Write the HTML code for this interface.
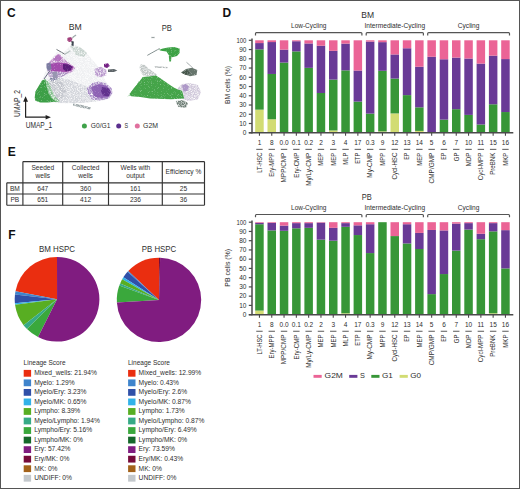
<!DOCTYPE html><html><head><meta charset="utf-8"><style>html,body{margin:0;padding:0;background:#fff;}body{width:520px;height:489px;overflow:hidden;}svg text{font-family:"Liberation Sans", sans-serif;}</style></head><body><svg width="520" height="489" viewBox="0 0 520 489" style="display:block">
<defs><filter id="bl" x="-20%" y="-20%" width="140%" height="140%"><feGaussianBlur stdDeviation="0.9"/></filter><filter id="bl2" x="-20%" y="-20%" width="140%" height="140%"><feGaussianBlur stdDeviation="1.6"/></filter><filter id="mot" x="0" y="0" width="520" height="489" filterUnits="userSpaceOnUse"><feGaussianBlur in="SourceGraphic" stdDeviation="0.7" result="b"/><feTurbulence type="fractalNoise" baseFrequency="1.3" numOctaves="1" seed="5" result="n"/><feColorMatrix in="n" type="matrix" values="0 0 0 0 0  0 0 0 0 0  0 0 0 0 0  2.6 0 0 0 -0.55" result="m"/><feComposite in="b" in2="m" operator="in" result="c"/><feGaussianBlur in="c" stdDeviation="0.35"/></filter><filter id="mot2" x="0" y="0" width="520" height="489" filterUnits="userSpaceOnUse"><feGaussianBlur in="SourceGraphic" stdDeviation="0.7" result="b"/><feTurbulence type="fractalNoise" baseFrequency="1.3" numOctaves="1" seed="9" result="n"/><feColorMatrix in="n" type="matrix" values="0 0 0 0 0  0 0 0 0 0  0 0 0 0 0  2.0 0 0 0 0.15" result="m"/><feComposite in="b" in2="m" operator="in" result="c"/><feGaussianBlur in="c" stdDeviation="0.3"/></filter></defs>
<rect x="0" y="0" width="520" height="489" fill="#fff"/>
<text x="7.00" y="16.80" font-size="12" text-anchor="start" fill="#111" font-weight="bold" >C</text>
<text x="222.60" y="16.60" font-size="12" text-anchor="start" fill="#111" font-weight="bold" >D</text>
<text x="7.70" y="155.60" font-size="12" text-anchor="start" fill="#111" font-weight="bold" >E</text>
<text x="8.20" y="239.40" font-size="12" text-anchor="start" fill="#111" font-weight="bold" >F</text>
<text x="75.20" y="29.70" font-size="8.7" text-anchor="middle" fill="#2e2e2e" textLength="13.0" lengthAdjust="spacingAndGlyphs" >BM</text>
<text x="166.80" y="30.90" font-size="8.6" text-anchor="middle" fill="#2e2e2e" textLength="10.2" lengthAdjust="spacingAndGlyphs" >PB</text>
<g filter="url(#mot)">
 <!-- BM body stipple -->
 <path d="M35,99 L38,88 L42,80 L47,68 L52,58 L57,52 L63,53 L68,48 L72,44 L78,46 L84,50 L90,57 L96,64 L101,70 L104,78 L108,85 L112,90 L111,97 L104,100.5 L92,102 L80,103 L66,103.5 L52,103 L40,101 Z" fill="#eff0f2"/>
 <path d="M44,100 L46,88 L49,79 L58,77 L70,80 L80,84 L90,88 L97,95 L96,101.5 L80,103 L60,103 Z" fill="#d3d5db"/>
 <path d="M47,84 L50,78 L58,77 L64,82 L66,92 L62,100 L52,101 Z" fill="#c2c5cc"/>
 <path d="M70,46 L80,47 L87,53 L84,57 L76,55 Z" fill="#c6d2cd"/>
 <path d="M44.5,79 L48.5,81 L51.5,89 L54.5,96 L60,101.5 L55,102.2 L50,97 L47,88 Z" fill="#84c08e"/>
 <path d="M49,74 L56,73.5 L57,80 L51,81 Z" fill="#7a7c9e"/>
 <path d="M46.5,65 L52,59 L58.6,53.2 L62.5,57 L67,61.5 L72,64.5 L75.5,68 L72,72 L66,74.5 L60,77 L54,78.5 L48.5,76 Z" fill="#c496cc"/>
 <path d="M48,71 L58,72 L68,73 L62,77 L55,78.5 L49,76 Z" fill="#a890c0"/>
 <path d="M87,88 L92,83 L99,81.5 L106,83.5 L111.5,88 L112.5,93 L109,98.5 L100,100.5 L92,99.5 L88,94 Z" fill="#a88cc6"/>
 <path d="M94.5,69 L101,66.8 L106.3,70 L106.3,75.5 L101,77 L95.5,76 Z" fill="#b898cc"/>
 <path d="M73,103.5 L82,105 L91,107.5 L90,109.5 L80,107.5 L73,105.5 Z" fill="#9aa4a6"/>
 <!-- PB body stipple -->
 <path d="M139.5,67 L141,64 L144,64.5 L148,68 L153,71.5 L157,74.5 L156,77 L150,77 L144,76 L141,73 Z" fill="#c0c6c5"/>
 <path d="M127.5,96.5 L131,92 L136,86 L139,81 L140,88 L134,95 Z" fill="#72b878"/>
 <path d="M176,90 L182,84 L190,83 L198,85 L201,92 L198,99.5 L188,101 L180,98 Z" fill="#d2cadc"/>
 <path d="M175.8,101 L183,100 L188,103 L186,107.7 L178,107 Z" fill="#6e7e76"/>
 <path d="M154.6,66.8 L167.7,67.6" stroke="#a4aaaa" stroke-width="1.2"/>
</g>
<g filter="url(#mot2)">
 <!-- green lobe -->
 <path d="M34.7,97.7 L35.4,91.6 L39,85.4 L42,80.5 L45.2,79.3 L46.4,85.4 L48.8,94 L52.5,99 L56.2,101.4 L48,102.6 L40.3,102.6 L35.4,100.8 Z" fill="#3e9f46"/>
 <!-- upper purple region -->
 <path d="M50,64 L58,62.5 L66,63 L73.5,66.5 L72,70.5 L66,72 L58,71.5 L51,71 Z" fill="#a24cac"/>
 <path d="M55,57 L58.6,54.5 L62,58 L60,61 L56,60.5 Z" fill="#b66cbc"/>
 <path d="M52.5,72 L57,71.5 L57.5,78 L53,79 Z" fill="#9896b0"/>
 <path d="M53,60 L58.6,54.5 L61,58 L58,61 Z" fill="#b476c0"/>
 <path d="M63,64 L69,64.5 L72.5,67 L70.5,70.5 L66,71.5 L63,69 Z" fill="#5c1e7a"/>
 <path d="M46.5,63.5 L50.5,62.5 L51.5,69 L48,71 L46.5,68 Z" fill="#7c7ea2"/>
 <path d="M44,79 L50,70.5" stroke="#6a6c84" stroke-width="1"/>
 <!-- right purple blob -->
 <path d="M91,87 L99,84 L106,85.5 L110.5,90 L109,96.5 L100,98.5 L94,96 Z" fill="#8e62b4"/>
 <path d="M102,87 L108,88 L111,92 L108.5,96.5 L103,95.5 L101,91 Z" fill="#62308e"/>
 <!-- small purple top -->
 <path d="M67.3,38 L70,36.9 L72.3,38 L72,41.5 L69,42 L67.3,40.5 Z" fill="#a03e7a"/>
 <path d="M71.5,41 L73.8,41.5 L73.5,46 L71.5,45.5 Z" fill="#3a424c"/>
 <path d="M72,38 L76,35" stroke="#94a2a2" stroke-width="1.2"/>
 <path d="M104,64 L108,63.3 L109.8,66 L107,67.9 L104,67 Z" fill="#742084"/>
 <path d="M108,69.5 L114,69 L117.3,70.5 L114,72 L108,72 Z" fill="#5e666a"/>
 <path d="M56.5,49.4 L64.8,54.2" stroke="#5a6068" stroke-width="0.9"/>
 <path d="M64.8,54.2 L70.4,50.8" stroke="#b0bcba" stroke-width="1.1"/>
 <!-- PB -->
 <path d="M129.6,94 L134,88 L139,82 L142.7,76.9 L149,76.5 L155.8,75.4 L160,78 L165,81.5 L170,85 L174.2,87.7 L178,89.5 L182,90.8 L184.2,98.5 L171,99.2 L150,98.5 L140.4,97 L131.2,96.2 Z" fill="#44a44a"/>
 <path d="M158.8,49.8 L163,48.6 L168,47.4 L174,47 L179.6,48.5 L179.6,53 L177,56 L172,57.2 L169,55.5 L166.5,51.5 L161,50.8 Z" fill="#3ca244"/>
 <path d="M168.8,56 L171.5,56 L171,61.5 L169.3,61.5 Z" fill="#46a44e"/>
 <path d="M147.3,55.4 L159.6,48.5" stroke="#849090" stroke-width="1"/>
 <path d="M181,72.5 L186,69 L192,67.7 L197.3,70 L196.5,75 L190,76.2 L185,74.5 Z" fill="#66746c"/>
 <path d="M181.5,72.8 L187,70 L190,73 L186,75 Z" fill="#44544a"/>
 <path d="M186.5,62.3 L192.7,67.7" stroke="#9aa2a2" stroke-width="0.9"/>
 <path d="M182,85.5 L186,83.8 L189,86.5 L187.5,91 L183.5,91.5 Z" fill="#ae98c8"/>
 <path d="M151,37.5 L155,37.5" stroke="#9aa2a2" stroke-width="1.2"/>
</g>

<path d="M25.6,101 L25.6,117.2 L46.5,117.2" fill="none" stroke="#222" stroke-width="1.2"/>
<path d="M25.6,96.2 L23.2,101.7 L28.0,101.7 Z" fill="#222"/>
<path d="M50.9,117.2 L45.6,114.9 L45.6,119.6 Z" fill="#222"/>
<text transform="translate(20.2,116.9) rotate(-90)" font-size="8.5" fill="#2e2e2e" textLength="26.9" lengthAdjust="spacingAndGlyphs">UMAP_2</text>
<text x="25.70" y="127.80" font-size="8.5" text-anchor="start" fill="#2e2e2e" textLength="26.4" lengthAdjust="spacingAndGlyphs" >UMAP_1</text>
<circle cx="84.4" cy="126" r="2.5" fill="#3fa24a"/>
<text x="90.80" y="128.30" font-size="7" text-anchor="start" fill="#2e2e2e" textLength="19.6" lengthAdjust="spacingAndGlyphs" >G0/G1</text>
<circle cx="118.7" cy="126" r="2.5" fill="#5a2f8e"/>
<text x="124.40" y="128.30" font-size="7" text-anchor="start" fill="#2e2e2e" textLength="3.6" lengthAdjust="spacingAndGlyphs" >S</text>
<circle cx="137.3" cy="126" r="2.5" fill="#e0709e"/>
<text x="143.00" y="128.30" font-size="7" text-anchor="start" fill="#2e2e2e" textLength="15" lengthAdjust="spacingAndGlyphs" >G2M</text>
<text x="367.70" y="17.70" font-size="8.4" text-anchor="middle" fill="#2e2e2e" textLength="12.8" lengthAdjust="spacingAndGlyphs" >BM</text>
<path d="M255.50,35.40 L255.50,33.50 Q255.50,32.60 256.40,32.60 L361.00,32.60 Q361.90,32.60 361.90,33.50 L361.90,35.40" fill="none" stroke="#555" stroke-width="1.2"/>
<text x="308.70" y="28.10" font-size="6.6" text-anchor="middle" fill="#2e2e2e" textLength="35.3" lengthAdjust="spacingAndGlyphs" >Low-Cycling</text>
<path d="M366.20,35.40 L366.20,33.50 Q366.20,32.60 367.10,32.60 L422.50,32.60 Q423.40,32.60 423.40,33.50 L423.40,35.40" fill="none" stroke="#555" stroke-width="1.2"/>
<text x="394.80" y="28.10" font-size="6.6" text-anchor="middle" fill="#2e2e2e" textLength="60.6" lengthAdjust="spacingAndGlyphs" >Intermediate-Cycling</text>
<path d="M427.70,35.40 L427.70,33.50 Q427.70,32.60 428.60,32.60 L508.60,32.60 Q509.50,32.60 509.50,33.50 L509.50,35.40" fill="none" stroke="#555" stroke-width="1.2"/>
<text x="468.60" y="28.10" font-size="6.6" text-anchor="middle" fill="#2e2e2e" textLength="21.6" lengthAdjust="spacingAndGlyphs" >Cycling</text>
<rect x="255.20" y="109.64" width="8.5" height="23.11" fill="#d2dc73"/>
<rect x="255.20" y="49.36" width="8.5" height="60.28" fill="#379637"/>
<rect x="255.20" y="43.07" width="8.5" height="6.29" fill="#693a96"/>
<rect x="255.20" y="40.30" width="8.5" height="2.77" fill="#eb6496"/>
<rect x="267.50" y="119.25" width="8.5" height="13.50" fill="#d2dc73"/>
<rect x="267.50" y="73.95" width="8.5" height="45.30" fill="#379637"/>
<rect x="267.50" y="42.06" width="8.5" height="31.90" fill="#693a96"/>
<rect x="267.50" y="40.30" width="8.5" height="1.76" fill="#eb6496"/>
<rect x="279.80" y="62.58" width="8.5" height="70.17" fill="#379637"/>
<rect x="279.80" y="49.64" width="8.5" height="12.94" fill="#693a96"/>
<rect x="279.80" y="40.30" width="8.5" height="9.34" fill="#eb6496"/>
<rect x="292.10" y="51.39" width="8.5" height="81.36" fill="#379637"/>
<rect x="292.10" y="41.22" width="8.5" height="10.17" fill="#693a96"/>
<rect x="292.10" y="40.30" width="8.5" height="0.92" fill="#eb6496"/>
<rect x="304.40" y="67.85" width="8.5" height="64.90" fill="#379637"/>
<rect x="304.40" y="43.44" width="8.5" height="24.41" fill="#693a96"/>
<rect x="304.40" y="40.30" width="8.5" height="3.14" fill="#eb6496"/>
<rect x="316.70" y="93.00" width="8.5" height="39.75" fill="#379637"/>
<rect x="316.70" y="45.75" width="8.5" height="47.24" fill="#693a96"/>
<rect x="316.70" y="40.30" width="8.5" height="5.45" fill="#eb6496"/>
<rect x="329.00" y="130.44" width="8.5" height="2.31" fill="#d2dc73"/>
<rect x="329.00" y="79.59" width="8.5" height="50.85" fill="#379637"/>
<rect x="329.00" y="50.84" width="8.5" height="28.75" fill="#693a96"/>
<rect x="329.00" y="40.30" width="8.5" height="10.54" fill="#eb6496"/>
<rect x="341.30" y="70.35" width="8.5" height="62.40" fill="#379637"/>
<rect x="341.30" y="43.63" width="8.5" height="26.72" fill="#693a96"/>
<rect x="341.30" y="40.30" width="8.5" height="3.33" fill="#eb6496"/>
<rect x="353.60" y="101.59" width="8.5" height="31.16" fill="#379637"/>
<rect x="353.60" y="70.53" width="8.5" height="31.06" fill="#693a96"/>
<rect x="353.60" y="40.30" width="8.5" height="30.23" fill="#eb6496"/>
<rect x="365.90" y="113.61" width="8.5" height="19.14" fill="#379637"/>
<rect x="365.90" y="41.59" width="8.5" height="72.02" fill="#693a96"/>
<rect x="365.90" y="40.30" width="8.5" height="1.29" fill="#eb6496"/>
<rect x="378.20" y="131.36" width="8.5" height="1.39" fill="#d2dc73"/>
<rect x="378.20" y="70.81" width="8.5" height="60.55" fill="#379637"/>
<rect x="378.20" y="42.15" width="8.5" height="28.66" fill="#693a96"/>
<rect x="378.20" y="40.30" width="8.5" height="1.85" fill="#eb6496"/>
<rect x="390.50" y="113.43" width="8.5" height="19.32" fill="#d2dc73"/>
<rect x="390.50" y="78.57" width="8.5" height="34.85" fill="#379637"/>
<rect x="390.50" y="54.44" width="8.5" height="24.13" fill="#693a96"/>
<rect x="390.50" y="40.30" width="8.5" height="14.14" fill="#eb6496"/>
<rect x="402.80" y="95.12" width="8.5" height="37.63" fill="#379637"/>
<rect x="402.80" y="48.25" width="8.5" height="46.87" fill="#693a96"/>
<rect x="402.80" y="40.30" width="8.5" height="7.95" fill="#eb6496"/>
<rect x="415.10" y="130.90" width="8.5" height="1.85" fill="#d2dc73"/>
<rect x="415.10" y="107.33" width="8.5" height="23.57" fill="#379637"/>
<rect x="415.10" y="66.74" width="8.5" height="40.59" fill="#693a96"/>
<rect x="415.10" y="40.30" width="8.5" height="26.44" fill="#eb6496"/>
<rect x="427.40" y="56.76" width="8.5" height="75.99" fill="#693a96"/>
<rect x="427.40" y="40.30" width="8.5" height="16.46" fill="#eb6496"/>
<rect x="439.70" y="119.62" width="8.5" height="13.13" fill="#379637"/>
<rect x="439.70" y="59.25" width="8.5" height="60.37" fill="#693a96"/>
<rect x="439.70" y="40.30" width="8.5" height="18.95" fill="#eb6496"/>
<rect x="452.00" y="109.18" width="8.5" height="23.57" fill="#379637"/>
<rect x="452.00" y="57.59" width="8.5" height="51.59" fill="#693a96"/>
<rect x="452.00" y="40.30" width="8.5" height="17.29" fill="#eb6496"/>
<rect x="464.30" y="114.91" width="8.5" height="17.84" fill="#379637"/>
<rect x="464.30" y="58.51" width="8.5" height="56.39" fill="#693a96"/>
<rect x="464.30" y="40.30" width="8.5" height="18.21" fill="#eb6496"/>
<rect x="476.60" y="124.52" width="8.5" height="8.23" fill="#379637"/>
<rect x="476.60" y="63.60" width="8.5" height="60.92" fill="#693a96"/>
<rect x="476.60" y="40.30" width="8.5" height="23.30" fill="#eb6496"/>
<rect x="488.90" y="104.28" width="8.5" height="28.47" fill="#379637"/>
<rect x="488.90" y="55.65" width="8.5" height="48.63" fill="#693a96"/>
<rect x="488.90" y="40.30" width="8.5" height="15.35" fill="#eb6496"/>
<rect x="501.20" y="112.04" width="8.5" height="20.71" fill="#379637"/>
<rect x="501.20" y="59.07" width="8.5" height="52.97" fill="#693a96"/>
<rect x="501.20" y="40.30" width="8.5" height="18.77" fill="#eb6496"/>
<line x1="252" y1="38.60" x2="252" y2="133.45" stroke="#4a4a4a" stroke-width="1.5"/>
<line x1="248.8" y1="132.75" x2="513.3" y2="132.75" stroke="#4a4a4a" stroke-width="1.5"/>
<line x1="248.8" y1="132.75" x2="252" y2="132.75" stroke="#4a4a4a" stroke-width="1.2"/>
<text x="246.40" y="135.05" font-size="6.5" text-anchor="end" fill="#2e2e2e" >0</text>
<line x1="248.8" y1="123.50" x2="252" y2="123.50" stroke="#4a4a4a" stroke-width="1.2"/>
<text x="246.40" y="125.80" font-size="6.5" text-anchor="end" fill="#2e2e2e" >10</text>
<line x1="248.8" y1="114.26" x2="252" y2="114.26" stroke="#4a4a4a" stroke-width="1.2"/>
<text x="246.40" y="116.56" font-size="6.5" text-anchor="end" fill="#2e2e2e" >20</text>
<line x1="248.8" y1="105.02" x2="252" y2="105.02" stroke="#4a4a4a" stroke-width="1.2"/>
<text x="246.40" y="107.31" font-size="6.5" text-anchor="end" fill="#2e2e2e" >30</text>
<line x1="248.8" y1="95.77" x2="252" y2="95.77" stroke="#4a4a4a" stroke-width="1.2"/>
<text x="246.40" y="98.07" font-size="6.5" text-anchor="end" fill="#2e2e2e" >40</text>
<line x1="248.8" y1="86.53" x2="252" y2="86.53" stroke="#4a4a4a" stroke-width="1.2"/>
<text x="246.40" y="88.83" font-size="6.5" text-anchor="end" fill="#2e2e2e" >50</text>
<line x1="248.8" y1="77.28" x2="252" y2="77.28" stroke="#4a4a4a" stroke-width="1.2"/>
<text x="246.40" y="79.58" font-size="6.5" text-anchor="end" fill="#2e2e2e" >60</text>
<line x1="248.8" y1="68.03" x2="252" y2="68.03" stroke="#4a4a4a" stroke-width="1.2"/>
<text x="246.40" y="70.33" font-size="6.5" text-anchor="end" fill="#2e2e2e" >70</text>
<line x1="248.8" y1="58.79" x2="252" y2="58.79" stroke="#4a4a4a" stroke-width="1.2"/>
<text x="246.40" y="61.09" font-size="6.5" text-anchor="end" fill="#2e2e2e" >80</text>
<line x1="248.8" y1="49.54" x2="252" y2="49.54" stroke="#4a4a4a" stroke-width="1.2"/>
<text x="246.40" y="51.84" font-size="6.5" text-anchor="end" fill="#2e2e2e" >90</text>
<line x1="248.8" y1="40.30" x2="252" y2="40.30" stroke="#4a4a4a" stroke-width="1.2"/>
<text x="246.40" y="42.60" font-size="6.5" text-anchor="end" fill="#2e2e2e" textLength="9.9" lengthAdjust="spacingAndGlyphs" >100</text>
<line x1="259.45" y1="132.75" x2="259.45" y2="135.75" stroke="#4a4a4a" stroke-width="1.1"/>
<text x="259.45" y="144.65" font-size="6.5" text-anchor="middle" fill="#2e2e2e" >1</text>
<line x1="256.25" y1="149.35" x2="262.65" y2="149.35" stroke="#2e2e2e" stroke-width="0.8"/>
<text transform="translate(261.75,152.65) rotate(-90)" font-size="6.5" text-anchor="end" fill="#2e2e2e" textLength="20.01" lengthAdjust="spacingAndGlyphs">LT-HSC</text>
<line x1="271.75" y1="132.75" x2="271.75" y2="135.75" stroke="#4a4a4a" stroke-width="1.1"/>
<text x="271.75" y="144.65" font-size="6.5" text-anchor="middle" fill="#2e2e2e" >8</text>
<line x1="268.55" y1="149.35" x2="274.95" y2="149.35" stroke="#2e2e2e" stroke-width="0.8"/>
<text transform="translate(274.05,152.65) rotate(-90)" font-size="6.5" text-anchor="end" fill="#2e2e2e" textLength="24.00" lengthAdjust="spacingAndGlyphs">Ery-MPP</text>
<line x1="284.05" y1="132.75" x2="284.05" y2="135.75" stroke="#4a4a4a" stroke-width="1.1"/>
<text x="284.05" y="144.65" font-size="6.5" text-anchor="middle" fill="#2e2e2e" >0.0</text>
<line x1="280.85" y1="149.35" x2="287.25" y2="149.35" stroke="#2e2e2e" stroke-width="0.8"/>
<text transform="translate(286.35,152.65) rotate(-90)" font-size="6.5" text-anchor="end" fill="#2e2e2e" textLength="29.81" lengthAdjust="spacingAndGlyphs">MPP/CMP</text>
<line x1="296.35" y1="132.75" x2="296.35" y2="135.75" stroke="#4a4a4a" stroke-width="1.1"/>
<text x="296.35" y="144.65" font-size="6.5" text-anchor="middle" fill="#2e2e2e" >0.1</text>
<line x1="293.15" y1="149.35" x2="299.55" y2="149.35" stroke="#2e2e2e" stroke-width="0.8"/>
<text transform="translate(298.65,152.65) rotate(-90)" font-size="6.5" text-anchor="end" fill="#2e2e2e" textLength="25.00" lengthAdjust="spacingAndGlyphs">Ery-CMP</text>
<line x1="308.65" y1="132.75" x2="308.65" y2="135.75" stroke="#4a4a4a" stroke-width="1.1"/>
<text x="308.65" y="144.65" font-size="6.5" text-anchor="middle" fill="#2e2e2e" >0.2</text>
<line x1="305.45" y1="149.35" x2="311.85" y2="149.35" stroke="#2e2e2e" stroke-width="0.8"/>
<text transform="translate(310.95,152.65) rotate(-90)" font-size="6.5" text-anchor="end" fill="#2e2e2e" textLength="33.20" lengthAdjust="spacingAndGlyphs">My/Ly-CMP</text>
<line x1="320.95" y1="132.75" x2="320.95" y2="135.75" stroke="#4a4a4a" stroke-width="1.1"/>
<text x="320.95" y="144.65" font-size="6.5" text-anchor="middle" fill="#2e2e2e" >2</text>
<line x1="317.75" y1="149.35" x2="324.15" y2="149.35" stroke="#2e2e2e" stroke-width="0.8"/>
<text transform="translate(323.25,152.65) rotate(-90)" font-size="6.5" text-anchor="end" fill="#2e2e2e" textLength="13.01" lengthAdjust="spacingAndGlyphs">MEP</text>
<line x1="333.25" y1="132.75" x2="333.25" y2="135.75" stroke="#4a4a4a" stroke-width="1.1"/>
<text x="333.25" y="144.65" font-size="6.5" text-anchor="middle" fill="#2e2e2e" >3</text>
<line x1="330.05" y1="149.35" x2="336.45" y2="149.35" stroke="#2e2e2e" stroke-width="0.8"/>
<text transform="translate(335.55,152.65) rotate(-90)" font-size="6.5" text-anchor="end" fill="#2e2e2e" textLength="13.01" lengthAdjust="spacingAndGlyphs">MEP</text>
<line x1="345.55" y1="132.75" x2="345.55" y2="135.75" stroke="#4a4a4a" stroke-width="1.1"/>
<text x="345.55" y="144.65" font-size="6.5" text-anchor="middle" fill="#2e2e2e" >4</text>
<line x1="342.35" y1="149.35" x2="348.75" y2="149.35" stroke="#2e2e2e" stroke-width="0.8"/>
<text transform="translate(347.85,152.65) rotate(-90)" font-size="6.5" text-anchor="end" fill="#2e2e2e" textLength="12.01" lengthAdjust="spacingAndGlyphs">MLP</text>
<line x1="357.85" y1="132.75" x2="357.85" y2="135.75" stroke="#4a4a4a" stroke-width="1.1"/>
<text x="357.85" y="144.65" font-size="6.5" text-anchor="middle" fill="#2e2e2e" >17</text>
<line x1="354.65" y1="149.35" x2="361.05" y2="149.35" stroke="#2e2e2e" stroke-width="0.8"/>
<text transform="translate(360.15,152.65) rotate(-90)" font-size="6.5" text-anchor="end" fill="#2e2e2e" textLength="11.10" lengthAdjust="spacingAndGlyphs">ETP</text>
<line x1="370.15" y1="132.75" x2="370.15" y2="135.75" stroke="#4a4a4a" stroke-width="1.1"/>
<text x="370.15" y="144.65" font-size="6.5" text-anchor="middle" fill="#2e2e2e" >0.3</text>
<line x1="366.95" y1="149.35" x2="373.35" y2="149.35" stroke="#2e2e2e" stroke-width="0.8"/>
<text transform="translate(372.45,152.65) rotate(-90)" font-size="6.5" text-anchor="end" fill="#2e2e2e" textLength="24.99" lengthAdjust="spacingAndGlyphs">My-CMP</text>
<line x1="382.45" y1="132.75" x2="382.45" y2="135.75" stroke="#4a4a4a" stroke-width="1.1"/>
<text x="382.45" y="144.65" font-size="6.5" text-anchor="middle" fill="#2e2e2e" >9</text>
<line x1="379.25" y1="149.35" x2="385.65" y2="149.35" stroke="#2e2e2e" stroke-width="0.8"/>
<text transform="translate(384.75,152.65) rotate(-90)" font-size="6.5" text-anchor="end" fill="#2e2e2e" textLength="13.01" lengthAdjust="spacingAndGlyphs">MPP</text>
<line x1="394.75" y1="132.75" x2="394.75" y2="135.75" stroke="#4a4a4a" stroke-width="1.1"/>
<text x="394.75" y="144.65" font-size="6.5" text-anchor="middle" fill="#2e2e2e" >12</text>
<line x1="391.55" y1="149.35" x2="397.95" y2="149.35" stroke="#2e2e2e" stroke-width="0.8"/>
<text transform="translate(397.05,152.65) rotate(-90)" font-size="6.5" text-anchor="end" fill="#2e2e2e" textLength="26.89" lengthAdjust="spacingAndGlyphs">Cycl-HSC</text>
<line x1="407.05" y1="132.75" x2="407.05" y2="135.75" stroke="#4a4a4a" stroke-width="1.1"/>
<text x="407.05" y="144.65" font-size="6.5" text-anchor="middle" fill="#2e2e2e" >13</text>
<line x1="403.85" y1="149.35" x2="410.25" y2="149.35" stroke="#2e2e2e" stroke-width="0.8"/>
<text transform="translate(409.35,152.65) rotate(-90)" font-size="6.5" text-anchor="end" fill="#2e2e2e" textLength="7.19" lengthAdjust="spacingAndGlyphs">EP</text>
<line x1="419.35" y1="132.75" x2="419.35" y2="135.75" stroke="#4a4a4a" stroke-width="1.1"/>
<text x="419.35" y="144.65" font-size="6.5" text-anchor="middle" fill="#2e2e2e" >14</text>
<line x1="416.15" y1="149.35" x2="422.55" y2="149.35" stroke="#2e2e2e" stroke-width="0.8"/>
<text transform="translate(421.65,152.65) rotate(-90)" font-size="6.5" text-anchor="end" fill="#2e2e2e" textLength="13.01" lengthAdjust="spacingAndGlyphs">MEP</text>
<line x1="431.65" y1="132.75" x2="431.65" y2="135.75" stroke="#4a4a4a" stroke-width="1.1"/>
<text x="431.65" y="144.65" font-size="6.5" text-anchor="middle" fill="#2e2e2e" >5</text>
<line x1="428.45" y1="149.35" x2="434.85" y2="149.35" stroke="#2e2e2e" stroke-width="0.8"/>
<text transform="translate(433.95,152.65) rotate(-90)" font-size="6.5" text-anchor="end" fill="#2e2e2e" textLength="30.79" lengthAdjust="spacingAndGlyphs">CMP/GMP</text>
<line x1="443.95" y1="132.75" x2="443.95" y2="135.75" stroke="#4a4a4a" stroke-width="1.1"/>
<text x="443.95" y="144.65" font-size="6.5" text-anchor="middle" fill="#2e2e2e" >6</text>
<line x1="440.75" y1="149.35" x2="447.15" y2="149.35" stroke="#2e2e2e" stroke-width="0.8"/>
<text transform="translate(446.25,152.65) rotate(-90)" font-size="6.5" text-anchor="end" fill="#2e2e2e" textLength="7.19" lengthAdjust="spacingAndGlyphs">EP</text>
<line x1="456.25" y1="132.75" x2="456.25" y2="135.75" stroke="#4a4a4a" stroke-width="1.1"/>
<text x="456.25" y="144.65" font-size="6.5" text-anchor="middle" fill="#2e2e2e" >7</text>
<line x1="453.05" y1="149.35" x2="459.45" y2="149.35" stroke="#2e2e2e" stroke-width="0.8"/>
<text transform="translate(458.55,152.65) rotate(-90)" font-size="6.5" text-anchor="end" fill="#2e2e2e" textLength="8.60" lengthAdjust="spacingAndGlyphs">GP</text>
<line x1="468.55" y1="132.75" x2="468.55" y2="135.75" stroke="#4a4a4a" stroke-width="1.1"/>
<text x="468.55" y="144.65" font-size="6.5" text-anchor="middle" fill="#2e2e2e" >10</text>
<line x1="465.35" y1="149.35" x2="471.75" y2="149.35" stroke="#2e2e2e" stroke-width="0.8"/>
<text transform="translate(470.85,152.65) rotate(-90)" font-size="6.5" text-anchor="end" fill="#2e2e2e" textLength="13.71" lengthAdjust="spacingAndGlyphs">MDP</text>
<line x1="480.85" y1="132.75" x2="480.85" y2="135.75" stroke="#4a4a4a" stroke-width="1.1"/>
<text x="480.85" y="144.65" font-size="6.5" text-anchor="middle" fill="#2e2e2e" >11</text>
<line x1="477.65" y1="149.35" x2="484.05" y2="149.35" stroke="#2e2e2e" stroke-width="0.8"/>
<text transform="translate(483.15,152.65) rotate(-90)" font-size="6.5" text-anchor="end" fill="#2e2e2e" textLength="27.70" lengthAdjust="spacingAndGlyphs">Cycl-MPP</text>
<line x1="493.15" y1="132.75" x2="493.15" y2="135.75" stroke="#4a4a4a" stroke-width="1.1"/>
<text x="493.15" y="144.65" font-size="6.5" text-anchor="middle" fill="#2e2e2e" >15</text>
<line x1="489.95" y1="149.35" x2="496.35" y2="149.35" stroke="#2e2e2e" stroke-width="0.8"/>
<text transform="translate(495.45,152.65) rotate(-90)" font-size="6.5" text-anchor="end" fill="#2e2e2e" textLength="22.18" lengthAdjust="spacingAndGlyphs">PreBNK</text>
<line x1="505.45" y1="132.75" x2="505.45" y2="135.75" stroke="#4a4a4a" stroke-width="1.1"/>
<text x="505.45" y="144.65" font-size="6.5" text-anchor="middle" fill="#2e2e2e" >16</text>
<line x1="502.25" y1="149.35" x2="508.65" y2="149.35" stroke="#2e2e2e" stroke-width="0.8"/>
<text transform="translate(507.75,152.65) rotate(-90)" font-size="6.5" text-anchor="end" fill="#2e2e2e" textLength="13.21" lengthAdjust="spacingAndGlyphs">MKP</text>
<text transform="translate(230.0,85.00) rotate(-90)" font-size="7.7" text-anchor="middle" fill="#2e2e2e" textLength="37.8" lengthAdjust="spacingAndGlyphs">BM cells (%)</text>
<text x="366.70" y="199.90" font-size="8.4" text-anchor="middle" fill="#2e2e2e" textLength="10.0" lengthAdjust="spacingAndGlyphs" >PB</text>
<path d="M255.50,217.30 L255.50,215.40 Q255.50,214.50 256.40,214.50 L361.00,214.50 Q361.90,214.50 361.90,215.40 L361.90,217.30" fill="none" stroke="#555" stroke-width="1.2"/>
<text x="308.70" y="210.00" font-size="6.6" text-anchor="middle" fill="#2e2e2e" textLength="35.3" lengthAdjust="spacingAndGlyphs" >Low-Cycling</text>
<path d="M366.20,217.30 L366.20,215.40 Q366.20,214.50 367.10,214.50 L422.50,214.50 Q423.40,214.50 423.40,215.40 L423.40,217.30" fill="none" stroke="#555" stroke-width="1.2"/>
<text x="394.80" y="210.00" font-size="6.6" text-anchor="middle" fill="#2e2e2e" textLength="60.6" lengthAdjust="spacingAndGlyphs" >Intermediate-Cycling</text>
<path d="M427.70,217.30 L427.70,215.40 Q427.70,214.50 428.60,214.50 L508.60,214.50 Q509.50,214.50 509.50,215.40 L509.50,217.30" fill="none" stroke="#555" stroke-width="1.2"/>
<text x="468.60" y="210.00" font-size="6.6" text-anchor="middle" fill="#2e2e2e" textLength="21.6" lengthAdjust="spacingAndGlyphs" >Cycling</text>
<rect x="255.20" y="310.58" width="8.5" height="4.07" fill="#d2dc73"/>
<rect x="255.20" y="224.23" width="8.5" height="86.35" fill="#379637"/>
<rect x="255.20" y="222.85" width="8.5" height="1.39" fill="#693a96"/>
<rect x="255.20" y="222.20" width="8.5" height="0.65" fill="#eb6496"/>
<rect x="267.50" y="230.43" width="8.5" height="84.22" fill="#379637"/>
<rect x="267.50" y="222.85" width="8.5" height="7.58" fill="#693a96"/>
<rect x="267.50" y="222.20" width="8.5" height="0.65" fill="#eb6496"/>
<rect x="279.80" y="230.80" width="8.5" height="83.85" fill="#379637"/>
<rect x="279.80" y="225.62" width="8.5" height="5.18" fill="#693a96"/>
<rect x="279.80" y="222.20" width="8.5" height="3.42" fill="#eb6496"/>
<rect x="292.10" y="228.30" width="8.5" height="86.35" fill="#379637"/>
<rect x="292.10" y="223.12" width="8.5" height="5.18" fill="#693a96"/>
<rect x="292.10" y="222.20" width="8.5" height="0.92" fill="#eb6496"/>
<rect x="304.40" y="227.84" width="8.5" height="86.81" fill="#379637"/>
<rect x="304.40" y="223.12" width="8.5" height="4.71" fill="#693a96"/>
<rect x="304.40" y="222.20" width="8.5" height="0.92" fill="#eb6496"/>
<rect x="316.70" y="239.67" width="8.5" height="74.98" fill="#379637"/>
<rect x="316.70" y="222.66" width="8.5" height="17.01" fill="#693a96"/>
<rect x="316.70" y="222.20" width="8.5" height="0.46" fill="#eb6496"/>
<rect x="329.00" y="240.69" width="8.5" height="73.96" fill="#379637"/>
<rect x="329.00" y="227.84" width="8.5" height="12.85" fill="#693a96"/>
<rect x="329.00" y="222.20" width="8.5" height="5.64" fill="#eb6496"/>
<rect x="341.30" y="313.26" width="8.5" height="1.39" fill="#d2dc73"/>
<rect x="341.30" y="226.82" width="8.5" height="86.44" fill="#379637"/>
<rect x="341.30" y="223.12" width="8.5" height="3.70" fill="#693a96"/>
<rect x="341.30" y="222.20" width="8.5" height="0.92" fill="#eb6496"/>
<rect x="353.60" y="235.05" width="8.5" height="79.60" fill="#379637"/>
<rect x="353.60" y="225.34" width="8.5" height="9.71" fill="#693a96"/>
<rect x="353.60" y="222.20" width="8.5" height="3.14" fill="#eb6496"/>
<rect x="365.90" y="253.08" width="8.5" height="61.57" fill="#379637"/>
<rect x="365.90" y="224.23" width="8.5" height="28.84" fill="#693a96"/>
<rect x="365.90" y="222.20" width="8.5" height="2.03" fill="#eb6496"/>
<rect x="378.20" y="222.20" width="8.5" height="92.45" fill="#379637"/>
<rect x="390.50" y="236.07" width="8.5" height="78.58" fill="#379637"/>
<rect x="390.50" y="222.20" width="8.5" height="13.87" fill="#eb6496"/>
<rect x="402.80" y="243.46" width="8.5" height="71.19" fill="#379637"/>
<rect x="402.80" y="224.23" width="8.5" height="19.23" fill="#693a96"/>
<rect x="402.80" y="222.20" width="8.5" height="2.03" fill="#eb6496"/>
<rect x="415.10" y="249.01" width="8.5" height="65.64" fill="#379637"/>
<rect x="415.10" y="232.92" width="8.5" height="16.09" fill="#693a96"/>
<rect x="415.10" y="222.20" width="8.5" height="10.72" fill="#eb6496"/>
<rect x="427.40" y="294.13" width="8.5" height="20.52" fill="#379637"/>
<rect x="427.40" y="229.97" width="8.5" height="64.16" fill="#693a96"/>
<rect x="427.40" y="222.20" width="8.5" height="7.77" fill="#eb6496"/>
<rect x="439.70" y="274.06" width="8.5" height="40.59" fill="#379637"/>
<rect x="439.70" y="230.43" width="8.5" height="43.64" fill="#693a96"/>
<rect x="439.70" y="222.20" width="8.5" height="8.23" fill="#eb6496"/>
<rect x="452.00" y="250.58" width="8.5" height="64.07" fill="#379637"/>
<rect x="452.00" y="223.59" width="8.5" height="27.00" fill="#693a96"/>
<rect x="452.00" y="222.20" width="8.5" height="1.39" fill="#eb6496"/>
<rect x="464.30" y="229.60" width="8.5" height="85.05" fill="#379637"/>
<rect x="464.30" y="223.12" width="8.5" height="6.47" fill="#693a96"/>
<rect x="464.30" y="222.20" width="8.5" height="0.92" fill="#eb6496"/>
<rect x="476.60" y="239.21" width="8.5" height="75.44" fill="#379637"/>
<rect x="476.60" y="233.76" width="8.5" height="5.45" fill="#693a96"/>
<rect x="476.60" y="222.20" width="8.5" height="11.56" fill="#eb6496"/>
<rect x="488.90" y="313.26" width="8.5" height="1.39" fill="#d2dc73"/>
<rect x="488.90" y="231.35" width="8.5" height="81.91" fill="#379637"/>
<rect x="488.90" y="223.12" width="8.5" height="8.23" fill="#693a96"/>
<rect x="488.90" y="222.20" width="8.5" height="0.92" fill="#eb6496"/>
<rect x="501.20" y="268.42" width="8.5" height="46.23" fill="#379637"/>
<rect x="501.20" y="230.15" width="8.5" height="38.27" fill="#693a96"/>
<rect x="501.20" y="222.20" width="8.5" height="7.95" fill="#eb6496"/>
<line x1="252" y1="220.50" x2="252" y2="315.35" stroke="#4a4a4a" stroke-width="1.5"/>
<line x1="248.8" y1="314.65" x2="513.3" y2="314.65" stroke="#4a4a4a" stroke-width="1.5"/>
<line x1="248.8" y1="314.65" x2="252" y2="314.65" stroke="#4a4a4a" stroke-width="1.2"/>
<text x="246.40" y="316.95" font-size="6.5" text-anchor="end" fill="#2e2e2e" >0</text>
<line x1="248.8" y1="305.40" x2="252" y2="305.40" stroke="#4a4a4a" stroke-width="1.2"/>
<text x="246.40" y="307.70" font-size="6.5" text-anchor="end" fill="#2e2e2e" >10</text>
<line x1="248.8" y1="296.16" x2="252" y2="296.16" stroke="#4a4a4a" stroke-width="1.2"/>
<text x="246.40" y="298.46" font-size="6.5" text-anchor="end" fill="#2e2e2e" >20</text>
<line x1="248.8" y1="286.91" x2="252" y2="286.91" stroke="#4a4a4a" stroke-width="1.2"/>
<text x="246.40" y="289.21" font-size="6.5" text-anchor="end" fill="#2e2e2e" >30</text>
<line x1="248.8" y1="277.67" x2="252" y2="277.67" stroke="#4a4a4a" stroke-width="1.2"/>
<text x="246.40" y="279.97" font-size="6.5" text-anchor="end" fill="#2e2e2e" >40</text>
<line x1="248.8" y1="268.42" x2="252" y2="268.42" stroke="#4a4a4a" stroke-width="1.2"/>
<text x="246.40" y="270.72" font-size="6.5" text-anchor="end" fill="#2e2e2e" >50</text>
<line x1="248.8" y1="259.18" x2="252" y2="259.18" stroke="#4a4a4a" stroke-width="1.2"/>
<text x="246.40" y="261.48" font-size="6.5" text-anchor="end" fill="#2e2e2e" >60</text>
<line x1="248.8" y1="249.94" x2="252" y2="249.94" stroke="#4a4a4a" stroke-width="1.2"/>
<text x="246.40" y="252.24" font-size="6.5" text-anchor="end" fill="#2e2e2e" >70</text>
<line x1="248.8" y1="240.69" x2="252" y2="240.69" stroke="#4a4a4a" stroke-width="1.2"/>
<text x="246.40" y="242.99" font-size="6.5" text-anchor="end" fill="#2e2e2e" >80</text>
<line x1="248.8" y1="231.44" x2="252" y2="231.44" stroke="#4a4a4a" stroke-width="1.2"/>
<text x="246.40" y="233.75" font-size="6.5" text-anchor="end" fill="#2e2e2e" >90</text>
<line x1="248.8" y1="222.20" x2="252" y2="222.20" stroke="#4a4a4a" stroke-width="1.2"/>
<text x="246.40" y="224.50" font-size="6.5" text-anchor="end" fill="#2e2e2e" textLength="9.9" lengthAdjust="spacingAndGlyphs" >100</text>
<line x1="259.45" y1="314.65" x2="259.45" y2="317.65" stroke="#4a4a4a" stroke-width="1.1"/>
<text x="259.45" y="326.55" font-size="6.5" text-anchor="middle" fill="#2e2e2e" >1</text>
<line x1="256.25" y1="331.25" x2="262.65" y2="331.25" stroke="#2e2e2e" stroke-width="0.8"/>
<text transform="translate(261.75,334.55) rotate(-90)" font-size="6.5" text-anchor="end" fill="#2e2e2e" textLength="20.01" lengthAdjust="spacingAndGlyphs">LT-HSC</text>
<line x1="271.75" y1="314.65" x2="271.75" y2="317.65" stroke="#4a4a4a" stroke-width="1.1"/>
<text x="271.75" y="326.55" font-size="6.5" text-anchor="middle" fill="#2e2e2e" >8</text>
<line x1="268.55" y1="331.25" x2="274.95" y2="331.25" stroke="#2e2e2e" stroke-width="0.8"/>
<text transform="translate(274.05,334.55) rotate(-90)" font-size="6.5" text-anchor="end" fill="#2e2e2e" textLength="24.00" lengthAdjust="spacingAndGlyphs">Ery-MPP</text>
<line x1="284.05" y1="314.65" x2="284.05" y2="317.65" stroke="#4a4a4a" stroke-width="1.1"/>
<text x="284.05" y="326.55" font-size="6.5" text-anchor="middle" fill="#2e2e2e" >0.0</text>
<line x1="280.85" y1="331.25" x2="287.25" y2="331.25" stroke="#2e2e2e" stroke-width="0.8"/>
<text transform="translate(286.35,334.55) rotate(-90)" font-size="6.5" text-anchor="end" fill="#2e2e2e" textLength="29.81" lengthAdjust="spacingAndGlyphs">MPP/CMP</text>
<line x1="296.35" y1="314.65" x2="296.35" y2="317.65" stroke="#4a4a4a" stroke-width="1.1"/>
<text x="296.35" y="326.55" font-size="6.5" text-anchor="middle" fill="#2e2e2e" >0.1</text>
<line x1="293.15" y1="331.25" x2="299.55" y2="331.25" stroke="#2e2e2e" stroke-width="0.8"/>
<text transform="translate(298.65,334.55) rotate(-90)" font-size="6.5" text-anchor="end" fill="#2e2e2e" textLength="25.00" lengthAdjust="spacingAndGlyphs">Ery-CMP</text>
<line x1="308.65" y1="314.65" x2="308.65" y2="317.65" stroke="#4a4a4a" stroke-width="1.1"/>
<text x="308.65" y="326.55" font-size="6.5" text-anchor="middle" fill="#2e2e2e" >0.2</text>
<line x1="305.45" y1="331.25" x2="311.85" y2="331.25" stroke="#2e2e2e" stroke-width="0.8"/>
<text transform="translate(310.95,334.55) rotate(-90)" font-size="6.5" text-anchor="end" fill="#2e2e2e" textLength="33.20" lengthAdjust="spacingAndGlyphs">My/Ly-CMP</text>
<line x1="320.95" y1="314.65" x2="320.95" y2="317.65" stroke="#4a4a4a" stroke-width="1.1"/>
<text x="320.95" y="326.55" font-size="6.5" text-anchor="middle" fill="#2e2e2e" >2</text>
<line x1="317.75" y1="331.25" x2="324.15" y2="331.25" stroke="#2e2e2e" stroke-width="0.8"/>
<text transform="translate(323.25,334.55) rotate(-90)" font-size="6.5" text-anchor="end" fill="#2e2e2e" textLength="13.01" lengthAdjust="spacingAndGlyphs">MEP</text>
<line x1="333.25" y1="314.65" x2="333.25" y2="317.65" stroke="#4a4a4a" stroke-width="1.1"/>
<text x="333.25" y="326.55" font-size="6.5" text-anchor="middle" fill="#2e2e2e" >3</text>
<line x1="330.05" y1="331.25" x2="336.45" y2="331.25" stroke="#2e2e2e" stroke-width="0.8"/>
<text transform="translate(335.55,334.55) rotate(-90)" font-size="6.5" text-anchor="end" fill="#2e2e2e" textLength="13.01" lengthAdjust="spacingAndGlyphs">MEP</text>
<line x1="345.55" y1="314.65" x2="345.55" y2="317.65" stroke="#4a4a4a" stroke-width="1.1"/>
<text x="345.55" y="326.55" font-size="6.5" text-anchor="middle" fill="#2e2e2e" >4</text>
<line x1="342.35" y1="331.25" x2="348.75" y2="331.25" stroke="#2e2e2e" stroke-width="0.8"/>
<text transform="translate(347.85,334.55) rotate(-90)" font-size="6.5" text-anchor="end" fill="#2e2e2e" textLength="12.01" lengthAdjust="spacingAndGlyphs">MLP</text>
<line x1="357.85" y1="314.65" x2="357.85" y2="317.65" stroke="#4a4a4a" stroke-width="1.1"/>
<text x="357.85" y="326.55" font-size="6.5" text-anchor="middle" fill="#2e2e2e" >17</text>
<line x1="354.65" y1="331.25" x2="361.05" y2="331.25" stroke="#2e2e2e" stroke-width="0.8"/>
<text transform="translate(360.15,334.55) rotate(-90)" font-size="6.5" text-anchor="end" fill="#2e2e2e" textLength="11.10" lengthAdjust="spacingAndGlyphs">ETP</text>
<line x1="370.15" y1="314.65" x2="370.15" y2="317.65" stroke="#4a4a4a" stroke-width="1.1"/>
<text x="370.15" y="326.55" font-size="6.5" text-anchor="middle" fill="#2e2e2e" >0.3</text>
<line x1="366.95" y1="331.25" x2="373.35" y2="331.25" stroke="#2e2e2e" stroke-width="0.8"/>
<text transform="translate(372.45,334.55) rotate(-90)" font-size="6.5" text-anchor="end" fill="#2e2e2e" textLength="24.99" lengthAdjust="spacingAndGlyphs">My-CMP</text>
<line x1="382.45" y1="314.65" x2="382.45" y2="317.65" stroke="#4a4a4a" stroke-width="1.1"/>
<text x="382.45" y="326.55" font-size="6.5" text-anchor="middle" fill="#2e2e2e" >9</text>
<line x1="379.25" y1="331.25" x2="385.65" y2="331.25" stroke="#2e2e2e" stroke-width="0.8"/>
<text transform="translate(384.75,334.55) rotate(-90)" font-size="6.5" text-anchor="end" fill="#2e2e2e" textLength="13.01" lengthAdjust="spacingAndGlyphs">MPP</text>
<line x1="394.75" y1="314.65" x2="394.75" y2="317.65" stroke="#4a4a4a" stroke-width="1.1"/>
<text x="394.75" y="326.55" font-size="6.5" text-anchor="middle" fill="#2e2e2e" >12</text>
<line x1="391.55" y1="331.25" x2="397.95" y2="331.25" stroke="#2e2e2e" stroke-width="0.8"/>
<text transform="translate(397.05,334.55) rotate(-90)" font-size="6.5" text-anchor="end" fill="#2e2e2e" textLength="26.89" lengthAdjust="spacingAndGlyphs">Cycl-HSC</text>
<line x1="407.05" y1="314.65" x2="407.05" y2="317.65" stroke="#4a4a4a" stroke-width="1.1"/>
<text x="407.05" y="326.55" font-size="6.5" text-anchor="middle" fill="#2e2e2e" >13</text>
<line x1="403.85" y1="331.25" x2="410.25" y2="331.25" stroke="#2e2e2e" stroke-width="0.8"/>
<text transform="translate(409.35,334.55) rotate(-90)" font-size="6.5" text-anchor="end" fill="#2e2e2e" textLength="7.19" lengthAdjust="spacingAndGlyphs">EP</text>
<line x1="419.35" y1="314.65" x2="419.35" y2="317.65" stroke="#4a4a4a" stroke-width="1.1"/>
<text x="419.35" y="326.55" font-size="6.5" text-anchor="middle" fill="#2e2e2e" >14</text>
<line x1="416.15" y1="331.25" x2="422.55" y2="331.25" stroke="#2e2e2e" stroke-width="0.8"/>
<text transform="translate(421.65,334.55) rotate(-90)" font-size="6.5" text-anchor="end" fill="#2e2e2e" textLength="13.01" lengthAdjust="spacingAndGlyphs">MEP</text>
<line x1="431.65" y1="314.65" x2="431.65" y2="317.65" stroke="#4a4a4a" stroke-width="1.1"/>
<text x="431.65" y="326.55" font-size="6.5" text-anchor="middle" fill="#2e2e2e" >5</text>
<line x1="428.45" y1="331.25" x2="434.85" y2="331.25" stroke="#2e2e2e" stroke-width="0.8"/>
<text transform="translate(433.95,334.55) rotate(-90)" font-size="6.5" text-anchor="end" fill="#2e2e2e" textLength="30.79" lengthAdjust="spacingAndGlyphs">CMP/GMP</text>
<line x1="443.95" y1="314.65" x2="443.95" y2="317.65" stroke="#4a4a4a" stroke-width="1.1"/>
<text x="443.95" y="326.55" font-size="6.5" text-anchor="middle" fill="#2e2e2e" >6</text>
<line x1="440.75" y1="331.25" x2="447.15" y2="331.25" stroke="#2e2e2e" stroke-width="0.8"/>
<text transform="translate(446.25,334.55) rotate(-90)" font-size="6.5" text-anchor="end" fill="#2e2e2e" textLength="7.19" lengthAdjust="spacingAndGlyphs">EP</text>
<line x1="456.25" y1="314.65" x2="456.25" y2="317.65" stroke="#4a4a4a" stroke-width="1.1"/>
<text x="456.25" y="326.55" font-size="6.5" text-anchor="middle" fill="#2e2e2e" >7</text>
<line x1="453.05" y1="331.25" x2="459.45" y2="331.25" stroke="#2e2e2e" stroke-width="0.8"/>
<text transform="translate(458.55,334.55) rotate(-90)" font-size="6.5" text-anchor="end" fill="#2e2e2e" textLength="8.60" lengthAdjust="spacingAndGlyphs">GP</text>
<line x1="468.55" y1="314.65" x2="468.55" y2="317.65" stroke="#4a4a4a" stroke-width="1.1"/>
<text x="468.55" y="326.55" font-size="6.5" text-anchor="middle" fill="#2e2e2e" >10</text>
<line x1="465.35" y1="331.25" x2="471.75" y2="331.25" stroke="#2e2e2e" stroke-width="0.8"/>
<text transform="translate(470.85,334.55) rotate(-90)" font-size="6.5" text-anchor="end" fill="#2e2e2e" textLength="13.71" lengthAdjust="spacingAndGlyphs">MDP</text>
<line x1="480.85" y1="314.65" x2="480.85" y2="317.65" stroke="#4a4a4a" stroke-width="1.1"/>
<text x="480.85" y="326.55" font-size="6.5" text-anchor="middle" fill="#2e2e2e" >11</text>
<line x1="477.65" y1="331.25" x2="484.05" y2="331.25" stroke="#2e2e2e" stroke-width="0.8"/>
<text transform="translate(483.15,334.55) rotate(-90)" font-size="6.5" text-anchor="end" fill="#2e2e2e" textLength="27.70" lengthAdjust="spacingAndGlyphs">Cycl-MPP</text>
<line x1="493.15" y1="314.65" x2="493.15" y2="317.65" stroke="#4a4a4a" stroke-width="1.1"/>
<text x="493.15" y="326.55" font-size="6.5" text-anchor="middle" fill="#2e2e2e" >15</text>
<line x1="489.95" y1="331.25" x2="496.35" y2="331.25" stroke="#2e2e2e" stroke-width="0.8"/>
<text transform="translate(495.45,334.55) rotate(-90)" font-size="6.5" text-anchor="end" fill="#2e2e2e" textLength="22.18" lengthAdjust="spacingAndGlyphs">PreBNK</text>
<line x1="505.45" y1="314.65" x2="505.45" y2="317.65" stroke="#4a4a4a" stroke-width="1.1"/>
<text x="505.45" y="326.55" font-size="6.5" text-anchor="middle" fill="#2e2e2e" >16</text>
<line x1="502.25" y1="331.25" x2="508.65" y2="331.25" stroke="#2e2e2e" stroke-width="0.8"/>
<text transform="translate(507.75,334.55) rotate(-90)" font-size="6.5" text-anchor="end" fill="#2e2e2e" textLength="13.21" lengthAdjust="spacingAndGlyphs">MKP</text>
<text transform="translate(230.0,267.81) rotate(-90)" font-size="7.7" text-anchor="middle" fill="#2e2e2e" textLength="37.8" lengthAdjust="spacingAndGlyphs">PB cells (%)</text>
<rect x="313.5" y="374.9" width="8.2" height="2.9" fill="#eb6496"/>
<text x="324.60" y="378.40" font-size="7.8" text-anchor="start" fill="#2e2e2e" textLength="18.3" lengthAdjust="spacingAndGlyphs" >G2M</text>
<rect x="349.2" y="374.9" width="8.2" height="2.9" fill="#693a96"/>
<text x="360.00" y="378.40" font-size="7.8" text-anchor="start" fill="#2e2e2e" textLength="4.9" lengthAdjust="spacingAndGlyphs" >S</text>
<rect x="371.3" y="374.9" width="8.2" height="2.9" fill="#379637"/>
<text x="382.00" y="378.40" font-size="7.8" text-anchor="start" fill="#2e2e2e" textLength="10.9" lengthAdjust="spacingAndGlyphs" >G1</text>
<rect x="399.6" y="374.9" width="8.2" height="2.9" fill="#d2dc73"/>
<text x="410.30" y="378.40" font-size="7.8" text-anchor="start" fill="#2e2e2e" textLength="10.8" lengthAdjust="spacingAndGlyphs" >G0</text>
<g stroke="#333" stroke-width="1.15" fill="none">
<line x1="22.9" y1="161.6" x2="204.5" y2="161.6"/>
<line x1="6.8" y1="182.8" x2="204.5" y2="182.8"/>
<line x1="6.8" y1="194.0" x2="204.5" y2="194.0"/>
<line x1="6.8" y1="205.2" x2="204.5" y2="205.2"/>
<line x1="6.8" y1="182.8" x2="6.8" y2="205.2"/>
<line x1="22.9" y1="161.6" x2="22.9" y2="205.2"/>
<line x1="62.7" y1="161.6" x2="62.7" y2="205.2"/>
<line x1="108.5" y1="161.6" x2="108.5" y2="205.2"/>
<line x1="162.3" y1="161.6" x2="162.3" y2="205.2"/>
<line x1="204.5" y1="161.6" x2="204.5" y2="205.2"/>
</g>
<text x="42.80" y="170.10" font-size="6.6" text-anchor="middle" fill="#2e2e2e" >Seeded</text>
<text x="42.80" y="178.00" font-size="6.6" text-anchor="middle" fill="#2e2e2e" >wells</text>
<text x="85.60" y="170.10" font-size="6.6" text-anchor="middle" fill="#2e2e2e" >Collected</text>
<text x="85.60" y="178.00" font-size="6.6" text-anchor="middle" fill="#2e2e2e" >wells</text>
<text x="135.40" y="170.10" font-size="6.6" text-anchor="middle" fill="#2e2e2e" >Wells with</text>
<text x="135.40" y="178.00" font-size="6.6" text-anchor="middle" fill="#2e2e2e" >output</text>
<text x="183.40" y="174.30" font-size="6.6" text-anchor="middle" fill="#2e2e2e" >Efficiency %</text>
<text x="14.85" y="190.50" font-size="6.6" text-anchor="middle" fill="#2e2e2e" >BM</text>
<text x="42.80" y="190.50" font-size="6.6" text-anchor="middle" fill="#2e2e2e" >647</text>
<text x="85.60" y="190.50" font-size="6.6" text-anchor="middle" fill="#2e2e2e" >360</text>
<text x="135.40" y="190.50" font-size="6.6" text-anchor="middle" fill="#2e2e2e" >161</text>
<text x="183.40" y="190.50" font-size="6.6" text-anchor="middle" fill="#2e2e2e" >25</text>
<text x="14.85" y="201.50" font-size="6.6" text-anchor="middle" fill="#2e2e2e" >PB</text>
<text x="42.80" y="201.50" font-size="6.6" text-anchor="middle" fill="#2e2e2e" >651</text>
<text x="85.60" y="201.50" font-size="6.6" text-anchor="middle" fill="#2e2e2e" >412</text>
<text x="135.40" y="201.50" font-size="6.6" text-anchor="middle" fill="#2e2e2e" >236</text>
<text x="183.40" y="201.50" font-size="6.6" text-anchor="middle" fill="#2e2e2e" >36</text>
<text x="57.00" y="251.70" font-size="8.4" text-anchor="middle" fill="#2e2e2e" textLength="36.2" lengthAdjust="spacingAndGlyphs" >BM HSPC</text>
<text x="159.00" y="251.70" font-size="8.4" text-anchor="middle" fill="#2e2e2e" textLength="34.4" lengthAdjust="spacingAndGlyphs" >PB HSPC</text>
<path d="M57.05,299.25 L57.05,256.90 A42.35,42.35 0 0 0 15.48,291.16 Z" fill="#ea2e10"/>
<path d="M57.05,299.25 L15.48,291.16 A42.35,42.35 0 0 0 14.96,294.55 Z" fill="#3f84cc"/>
<path d="M57.05,299.25 L14.96,294.55 A42.35,42.35 0 0 0 14.88,303.13 Z" fill="#3050a8"/>
<path d="M57.05,299.25 L14.88,303.13 A42.35,42.35 0 0 0 15.07,304.85 Z" fill="#32b2e8"/>
<path d="M57.05,299.25 L15.07,304.85 A42.35,42.35 0 0 0 23.59,325.21 Z" fill="#58ae22"/>
<path d="M57.05,299.25 L23.59,325.21 A42.35,42.35 0 0 0 26.99,329.08 Z" fill="#36aa86"/>
<path d="M57.05,299.25 L26.99,329.08 A42.35,42.35 0 0 0 38.06,337.10 Z" fill="#3aa83c"/>
<path d="M57.05,299.25 L38.06,337.10 A42.35,42.35 0 1 0 57.00,256.90 Z" fill="#801c80"/>
<path d="M159.0,299.9 L159.00,257.70 A42.2,42.2 0 0 0 128.26,270.99 Z" fill="#ea2e10"/>
<path d="M159.0,299.9 L128.26,270.99 A42.2,42.2 0 0 0 127.49,271.83 Z" fill="#3f84cc"/>
<path d="M159.0,299.9 L127.49,271.83 A42.2,42.2 0 0 0 123.34,277.33 Z" fill="#3050a8"/>
<path d="M159.0,299.9 L123.34,277.33 A42.2,42.2 0 0 0 122.16,279.31 Z" fill="#32b2e8"/>
<path d="M159.0,299.9 L122.16,279.31 A42.2,42.2 0 0 0 120.15,283.43 Z" fill="#58ae22"/>
<path d="M159.0,299.9 L120.15,283.43 A42.2,42.2 0 0 0 119.30,285.58 Z" fill="#36aa86"/>
<path d="M159.0,299.9 L119.30,285.58 A42.2,42.2 0 0 0 116.88,302.50 Z" fill="#3aa83c"/>
<path d="M159.0,299.9 L116.88,302.50 A42.2,42.2 0 1 0 160.14,257.72 Z" fill="#801c80"/>
<path d="M159.0,299.9 L160.14,257.72 A42.2,42.2 0 0 0 159.00,257.70 Z" fill="#760a3a"/>
<text x="23.60" y="364.80" font-size="6.5" text-anchor="start" fill="#2e2e2e" >Lineage Score</text>
<rect x="23.70" y="369.90" width="7.4" height="6.8" fill="#ea2e10"/>
<text x="34.20" y="375.10" font-size="6.68" text-anchor="start" fill="#2e2e2e" >Mixed_wells: 21.94%</text>
<rect x="23.70" y="379.44" width="7.4" height="6.8" fill="#3f84cc"/>
<text x="34.20" y="384.64" font-size="6.68" text-anchor="start" fill="#2e2e2e" >Myelo: 1.29%</text>
<rect x="23.70" y="388.98" width="7.4" height="6.8" fill="#3050a8"/>
<text x="34.20" y="394.18" font-size="6.68" text-anchor="start" fill="#2e2e2e" >Myelo/Ery: 3.23%</text>
<rect x="23.70" y="398.52" width="7.4" height="6.8" fill="#32b2e8"/>
<text x="34.20" y="403.72" font-size="6.68" text-anchor="start" fill="#2e2e2e" >Myelo/MK: 0.65%</text>
<rect x="23.70" y="408.06" width="7.4" height="6.8" fill="#58ae22"/>
<text x="34.20" y="413.26" font-size="6.68" text-anchor="start" fill="#2e2e2e" >Lympho: 8.39%</text>
<rect x="23.70" y="417.60" width="7.4" height="6.8" fill="#36aa86"/>
<text x="34.20" y="422.80" font-size="6.68" text-anchor="start" fill="#2e2e2e" >Myelo/Lympho: 1.94%</text>
<rect x="23.70" y="427.14" width="7.4" height="6.8" fill="#3aa83c"/>
<text x="34.20" y="432.34" font-size="6.68" text-anchor="start" fill="#2e2e2e" >Lympho/Ery: 5.16%</text>
<rect x="23.70" y="436.68" width="7.4" height="6.8" fill="#15682a"/>
<text x="34.20" y="441.88" font-size="6.68" text-anchor="start" fill="#2e2e2e" >Lympho/MK: 0%</text>
<rect x="23.70" y="446.22" width="7.4" height="6.8" fill="#801c80"/>
<text x="34.20" y="451.42" font-size="6.68" text-anchor="start" fill="#2e2e2e" >Ery: 57.42%</text>
<rect x="23.70" y="455.76" width="7.4" height="6.8" fill="#760a3a"/>
<text x="34.20" y="460.96" font-size="6.68" text-anchor="start" fill="#2e2e2e" >Ery/MK: 0%</text>
<rect x="23.70" y="465.30" width="7.4" height="6.8" fill="#a3621a"/>
<text x="34.20" y="470.50" font-size="6.68" text-anchor="start" fill="#2e2e2e" >MK: 0%</text>
<rect x="23.70" y="474.84" width="7.4" height="6.8" fill="#c3c8cc"/>
<text x="34.20" y="480.04" font-size="6.68" text-anchor="start" fill="#2e2e2e" >UNDIFF: 0%</text>
<text x="128.00" y="364.80" font-size="6.5" text-anchor="start" fill="#2e2e2e" >Lineage Score</text>
<rect x="128.10" y="369.90" width="7.4" height="6.8" fill="#ea2e10"/>
<text x="138.60" y="375.10" font-size="6.68" text-anchor="start" fill="#2e2e2e" >Mixed_wells: 12.99%</text>
<rect x="128.10" y="379.44" width="7.4" height="6.8" fill="#3f84cc"/>
<text x="138.60" y="384.64" font-size="6.68" text-anchor="start" fill="#2e2e2e" >Myelo: 0.43%</text>
<rect x="128.10" y="388.98" width="7.4" height="6.8" fill="#3050a8"/>
<text x="138.60" y="394.18" font-size="6.68" text-anchor="start" fill="#2e2e2e" >Myelo/Ery: 2.6%</text>
<rect x="128.10" y="398.52" width="7.4" height="6.8" fill="#32b2e8"/>
<text x="138.60" y="403.72" font-size="6.68" text-anchor="start" fill="#2e2e2e" >Myelo/MK: 0.87%</text>
<rect x="128.10" y="408.06" width="7.4" height="6.8" fill="#58ae22"/>
<text x="138.60" y="413.26" font-size="6.68" text-anchor="start" fill="#2e2e2e" >Lympho: 1.73%</text>
<rect x="128.10" y="417.60" width="7.4" height="6.8" fill="#36aa86"/>
<text x="138.60" y="422.80" font-size="6.68" text-anchor="start" fill="#2e2e2e" >Myelo/Lympho: 0.87%</text>
<rect x="128.10" y="427.14" width="7.4" height="6.8" fill="#3aa83c"/>
<text x="138.60" y="432.34" font-size="6.68" text-anchor="start" fill="#2e2e2e" >Lympho/Ery: 6.49%</text>
<rect x="128.10" y="436.68" width="7.4" height="6.8" fill="#15682a"/>
<text x="138.60" y="441.88" font-size="6.68" text-anchor="start" fill="#2e2e2e" >Lympho/MK: 0%</text>
<rect x="128.10" y="446.22" width="7.4" height="6.8" fill="#801c80"/>
<text x="138.60" y="451.42" font-size="6.68" text-anchor="start" fill="#2e2e2e" >Ery: 73.59%</text>
<rect x="128.10" y="455.76" width="7.4" height="6.8" fill="#760a3a"/>
<text x="138.60" y="460.96" font-size="6.68" text-anchor="start" fill="#2e2e2e" >Ery/MK: 0.43%</text>
<rect x="128.10" y="465.30" width="7.4" height="6.8" fill="#a3621a"/>
<text x="138.60" y="470.50" font-size="6.68" text-anchor="start" fill="#2e2e2e" >MK: 0%</text>
<rect x="128.10" y="474.84" width="7.4" height="6.8" fill="#c3c8cc"/>
<text x="138.60" y="480.04" font-size="6.68" text-anchor="start" fill="#2e2e2e" >UNDIFF: 0%</text>
<rect x="0.5" y="0.5" width="519" height="488" fill="none" stroke="#555" stroke-width="1"/>
</svg></body></html>
